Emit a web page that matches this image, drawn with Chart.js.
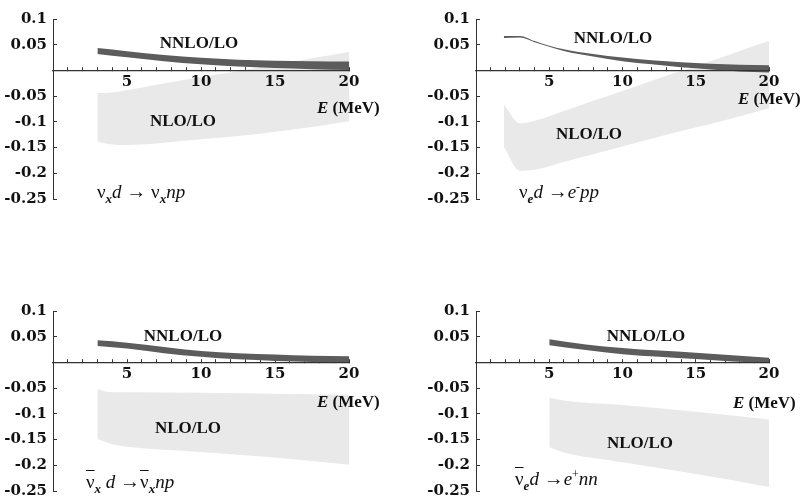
<!DOCTYPE html>
<html>
<head>
<meta charset="utf-8">
<script src="https://cdn.jsdelivr.net/npm/chart.js@4.4.1/dist/chart.umd.min.js"></script>
<style>
  html, body { margin: 0; padding: 0; background: #fff; }
  #wrap { position: relative; width: 806px; height: 499px; overflow: hidden; }
  canvas { position: absolute; }
  .lbl {
    position: absolute;
    font-family: 'Liberation Serif', 'Times New Roman', serif;
    font-weight: bold;
    font-size: 17px;
    color: #111;
    white-space: nowrap;
    line-height: 1;
  }
  .c { transform: translate(-50%, -50%); }
  .l { transform: translate(0, -50%); }
  .rx { font-weight: normal; font-size: 19px; }
  .rx i { font-style: italic; }
  .rx sub { font-size: 13px; font-style: italic; font-weight: bold; vertical-align: -5px; }
  .rx sup { font-size: 12px; vertical-align: 7px; }
  .bar { text-decoration: overline; }
  .arr { font-weight: bold; font-size: 20px; }
</style>
</head>
<body>
<div id="wrap">
  <canvas id="c1" width="400" height="250" style="left:0;top:0"></canvas>
  <canvas id="c2" width="406" height="250" style="left:400px;top:0"></canvas>
  <canvas id="c3" width="400" height="250" style="left:0;top:292px"></canvas>
  <canvas id="c4" width="406" height="250" style="left:400px;top:292px"></canvas>

  <span class="lbl c" style="left:199px;top:42px">NNLO/LO</span>
  <span class="lbl c" style="left:183px;top:120px">NLO/LO</span>
  <span class="lbl l" style="left:317px;top:107px"><i>E</i> (MeV)</span>
  <span class="lbl l rx" style="left:97px;top:193px">ν<sub>x</sub><i>d</i> <span class="arr">→</span> ν<sub>x</sub><i>np</i></span>

  <span class="lbl c" style="left:613px;top:37px">NNLO/LO</span>
  <span class="lbl c" style="left:589px;top:133px">NLO/LO</span>
  <span class="lbl l" style="left:738px;top:98px"><i>E</i> (MeV)</span>
  <span class="lbl l rx" style="left:519px;top:193px">ν<sub>e</sub><i>d</i> <span class="arr">→</span><i>e</i><sup>-</sup><i>pp</i></span>

  <span class="lbl c" style="left:183px;top:335px">NNLO/LO</span>
  <span class="lbl c" style="left:188px;top:427px">NLO/LO</span>
  <span class="lbl l" style="left:317px;top:401px"><i>E</i> (MeV)</span>
  <span class="lbl l rx" style="left:86px;top:483px"><span class="bar">ν</span><sub>x</sub> <i>d</i> <span class="arr">→</span><span class="bar">ν</span><sub>x</sub><i>np</i></span>

  <span class="lbl c" style="left:646px;top:335px">NNLO/LO</span>
  <span class="lbl c" style="left:640px;top:442px">NLO/LO</span>
  <span class="lbl l" style="left:733px;top:402px"><i>E</i> (MeV)</span>
  <span class="lbl l rx" style="left:515px;top:480px"><span class="bar">ν</span><sub>e</sub><i>d</i> <span class="arr">→</span><i>e</i><sup>+</sup><i>nn</i></span>
</div>

<script>
'use strict';

// ── Data (E in MeV, ratios) ───────────────────────────────────────────────
// panel 1: nu_x d -> nu_x n p
const nnloE1  = [3, 5, 7.5, 10, 12.5, 15, 17.5, 20];
const nnloHi1 = [0.0435, 0.0375, 0.030, 0.0245, 0.021, 0.019, 0.018, 0.0173];
const nnloLo1 = [0.032, 0.0256, 0.018, 0.012, 0.0075, 0.0045, 0.0025, 0.001];
const nloE1   = [3, 4, 5, 6, 8, 10, 12, 14, 16, 18, 20];
const nloHi1  = [-0.044, -0.043, -0.038, -0.033, -0.023, -0.013, -0.004, 0.006, 0.016, 0.026, 0.036];
const nloLo1  = [-0.138, -0.144, -0.145, -0.144, -0.139, -0.134, -0.129, -0.123, -0.116, -0.108, -0.099];

// panel 2: nu_e d -> e- p p
const nnloE2  = [1.9, 3, 4, 5, 6, 7, 8, 10, 12, 14, 16, 18, 20];
const nnloHi2 = [0.067, 0.067, 0.057, 0.048, 0.041, 0.036, 0.032, 0.025, 0.020, 0.016, 0.013, 0.011, 0.010];
const nnloLo2 = [0.063, 0.064, 0.055, 0.046, 0.038, 0.032, 0.027, 0.018, 0.012, 0.006, 0.002, -0.002, -0.004];
const nloE2   = [1.9, 3, 4, 6, 8, 10, 12, 14, 16, 18, 20];
const nloHi2  = [-0.066, -0.103, -0.098, -0.079, -0.059, -0.040, -0.020, -0.001, 0.018, 0.038, 0.057];
const nloLo2  = [-0.149, -0.195, -0.193, -0.178, -0.163, -0.148, -0.133, -0.118, -0.104, -0.089, -0.074];

// panel 3: anti-nu_x d -> anti-nu_x n p
const nnloE3  = [3, 5, 7.5, 10, 12.5, 15, 17.5, 20];
const nnloHi3 = [0.043, 0.0385, 0.030, 0.022, 0.018, 0.0154, 0.013, 0.012];
const nnloLo3 = [0.032, 0.027, 0.018, 0.011, 0.006, 0.003, 0.001, 0.0];
const nloE3   = [3, 4, 5, 10, 15, 20];
const nloHi3  = [-0.052, -0.058, -0.058, -0.059, -0.061, -0.063];
const nloLo3  = [-0.149, -0.159, -0.164, -0.174, -0.185, -0.199];

// panel 4: anti-nu_e d -> e+ n n
const nnloE4  = [5, 7.5, 10, 12.5, 15, 17.5, 20];
const nnloHi4 = [0.045, 0.035, 0.028, 0.023, 0.019, 0.014, 0.009];
const nnloLo4 = [0.0335, 0.024, 0.016, 0.011, 0.0065, 0.002, -0.001];
const nloE4   = [5, 6, 10, 15, 20];
const nloHi4  = [-0.068, -0.074, -0.083, -0.096, -0.111];
const nloLo4  = [-0.165, -0.175, -0.194, -0.217, -0.242];

// axis ticks
const xMin = 0, xMax = 20, xStep = 1, xLabelEvery = 5;
const yMin = -0.25, yMax = 0.1, yStep = 0.05;

// ── Style ────────────────────────────────────────────────────────────────
const DARK  = '#5c5c5c';
const LIGHT = '#e9e9e9';
const AXIS  = '#333';
const INK   = '#111';
const FONT  = { family: "'DejaVu Serif', serif", weight: 'bold', size: 15 };

const pts = (xs, ys) => xs.map((x, i) => ({ x, y: ys[i] }));

function band(xs, hi, lo, color) {
  const common = {
    borderWidth: 0,
    borderColor: color,
    pointRadius: 0,
    cubicInterpolationMode: 'monotone',
  };
  return [
    { ...common, data: pts(xs, hi), fill: '+1', backgroundColor: color },
    { ...common, data: pts(xs, lo), fill: false },
  ];
}

function makePanel(id, axisWidth, pad, nnlo, nlo) {
  const ctx = document.getElementById(id).getContext('2d');
  return new Chart(ctx, {
    type: 'line',
    data: {
      datasets: [
        ...band(nnlo[0], nnlo[1], nnlo[2], DARK),
        ...band(nlo[0], nlo[1], nlo[2], LIGHT),
      ],
    },
    options: {
      responsive: false,
      animation: false,
      devicePixelRatio: 1,
      layout: { padding: pad },
      plugins: { legend: { display: false }, tooltip: { enabled: false } },
      scales: {
        x: {
          type: 'linear',
          position: { y: 0 },
          min: xMin,
          max: xMax,
          grid: { drawOnChartArea: false, tickLength: -4, color: AXIS, lineWidth: 1 },
          border: { color: AXIS, width: 1.2, z: 1 },
          ticks: {
            stepSize: xStep,
            autoSkip: false,
            maxRotation: 0,
            padding: 7,
            z: 1,
            color: INK,
            font: FONT,
            callback: v => (v !== 0 && v % xLabelEvery === 0) ? String(v) : '',
          },
        },
        y: {
          type: 'linear',
          min: yMin,
          max: yMax,
          afterFit: s => { s.width = axisWidth; },
          grid: { drawOnChartArea: false, tickLength: -4, color: AXIS, lineWidth: 1 },
          border: { color: AXIS, width: 1, z: 1 },
          ticks: {
            stepSize: yStep,
            padding: 10,
            color: INK,
            font: FONT,
            callback: v => Math.abs(v) < 1e-9 ? '' : String(+v.toFixed(2)),
          },
        },
      },
    },
  });
}

makePanel('c1', 53, { top: 17, right: 51, bottom: 51, left: 0 },
  [nnloE1, nnloHi1, nnloLo1], [nloE1, nloHi1, nloLo1]);
makePanel('c2', 76, { top: 17, right: 37, bottom: 51, left: 0 },
  [nnloE2, nnloHi2, nnloLo2], [nloE2, nloHi2, nloLo2]);
makePanel('c3', 53, { top: 17, right: 51, bottom: 51, left: 0 },
  [nnloE3, nnloHi3, nnloLo3], [nloE3, nloHi3, nloLo3]);
makePanel('c4', 76, { top: 17, right: 37, bottom: 51, left: 0 },
  [nnloE4, nnloHi4, nnloLo4], [nloE4, nloHi4, nloLo4]);
</script>
</body>
</html>
